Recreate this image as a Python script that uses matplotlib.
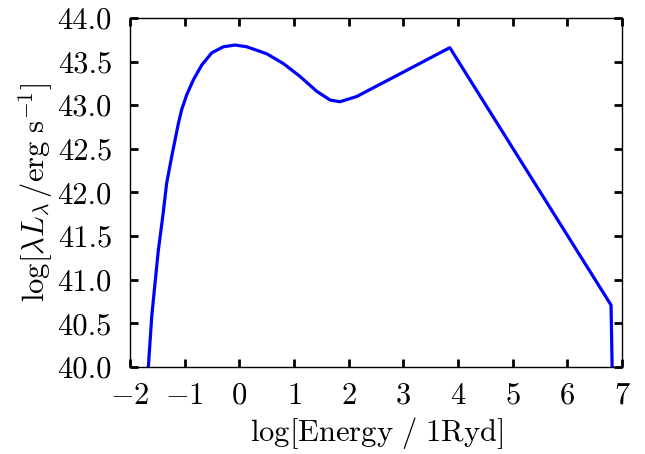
import matplotlib
matplotlib.use("Agg")
import matplotlib.pyplot as plt

plt.rcParams['font.family'] = 'serif'
plt.rcParams['font.serif'] = ['cmr10']
plt.rcParams['mathtext.fontset'] = 'cm'
plt.rcParams['axes.formatter.use_mathtext'] = True
plt.rcParams['axes.unicode_minus'] = True

# SED: log energy (Ryd) vs log(lambda L_lambda)
log_energy = [-1.665, -1.603, -1.543, -1.482, -1.402, -1.329, -1.235, -1.177, -1.116,
              -1.055, -0.963, -0.842, -0.689, -0.506, -0.293, -0.079, 0.135, 0.50,
              0.80, 1.11, 1.415, 1.66, 1.84, 2.147, 2.36, 2.94, 3.85, 6.80, 6.82]
log_lum = [40.00, 40.58, 40.96, 41.34, 41.72, 42.11, 42.42, 42.60, 42.79,
           42.95, 43.12, 43.29, 43.46, 43.60, 43.67, 43.69, 43.67, 43.59,
           43.48, 43.33, 43.16, 43.06, 43.04, 43.10, 43.17, 43.36, 43.66, 40.71, 40.00]

fig = plt.figure(figsize=(6.45, 4.54), dpi=100)
ax = fig.add_axes([0.2016, 0.1916, 0.7627, 0.7688])
ax.plot(log_energy, log_lum, color='#0000ff', lw=2.3, solid_joinstyle='round')

ax.set_xlim(-2, 7)
ax.set_ylim(40, 44)
ax.set_xticks(range(-2, 8))
ax.set_yticks([40 + 0.5 * i for i in range(9)])
ax.set_yticklabels(['%.1f' % (40 + 0.5 * i) for i in range(9)])
ax.tick_params(direction='in', top=True, right=True, length=6, width=2,
               labelsize=22)
ax.tick_params(axis='x', pad=11)
ax.tick_params(axis='y', pad=13)
for s in ax.spines.values():
    s.set_linewidth(1.0)

ax.set_xlabel(r'$\log[{\rm Energy}\ /\ {\rm 1Ryd}]$', fontsize=22, labelpad=4)
ax.set_ylabel(r'$\log[\lambda L_\lambda\,/{\rm erg\ s}^{-1}]$', fontsize=22, labelpad=2)

fig.savefig('out.png', dpi=100)
